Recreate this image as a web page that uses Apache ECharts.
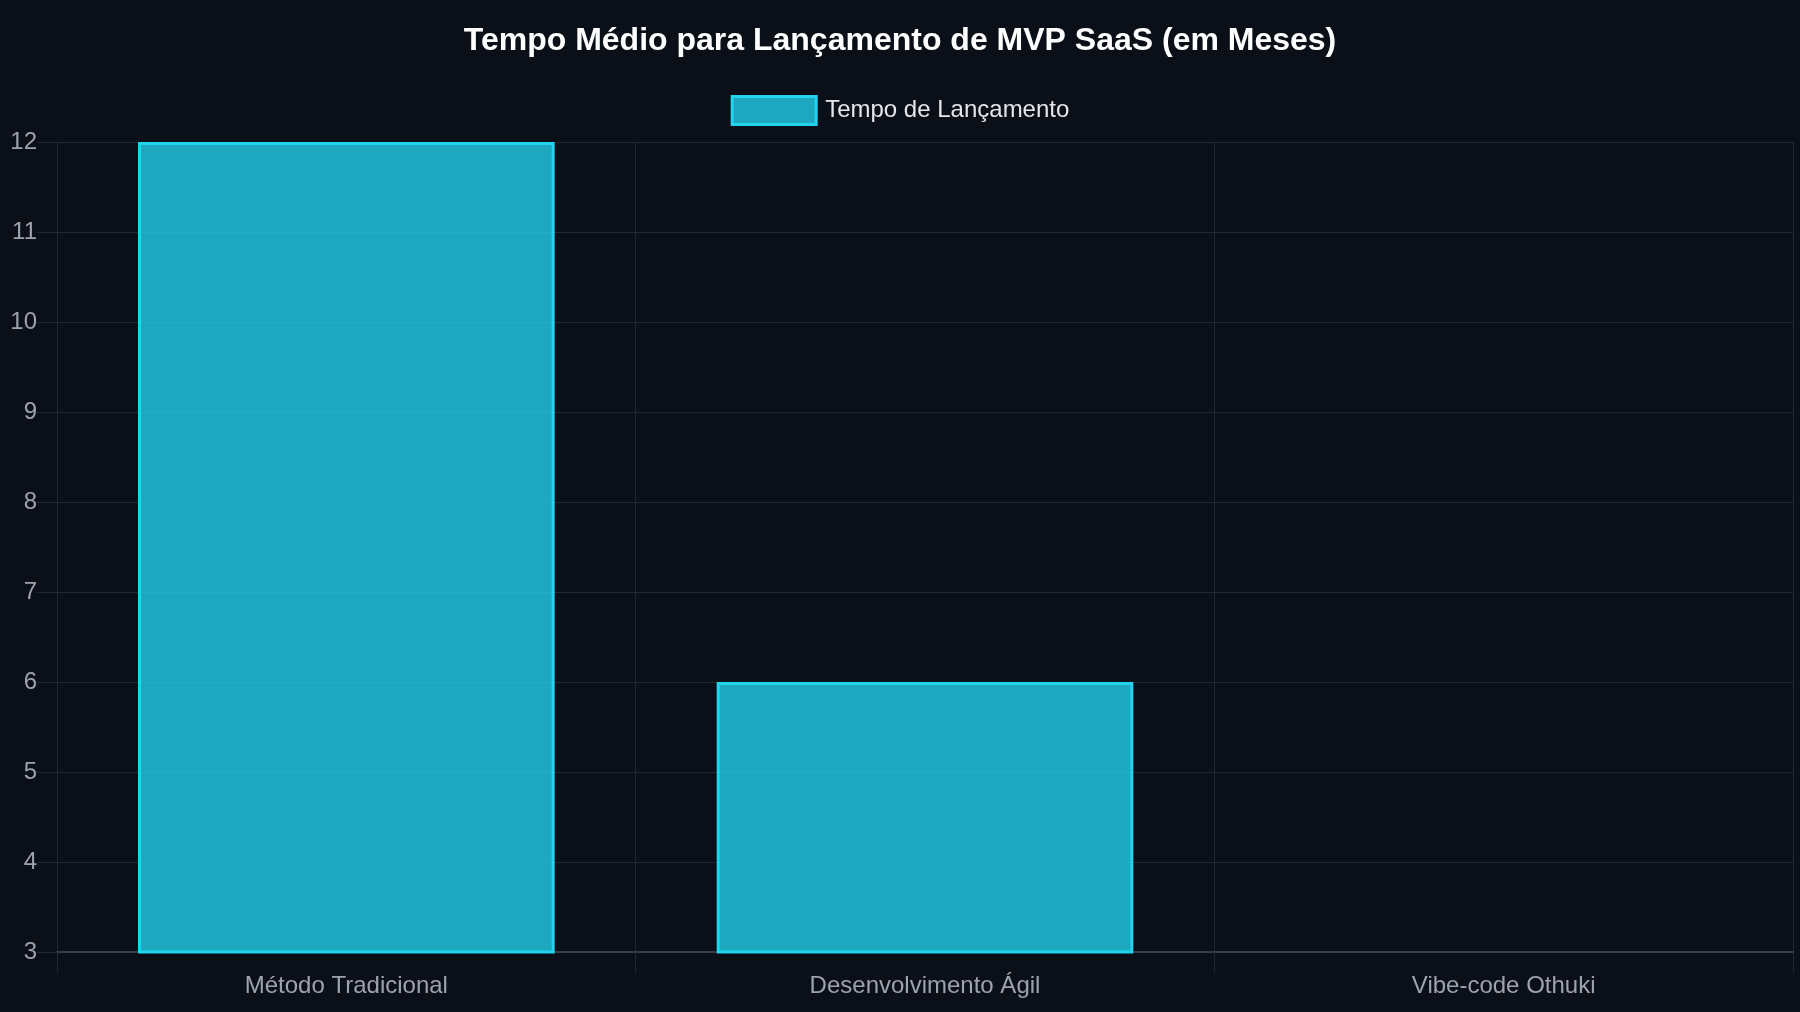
<!DOCTYPE html>
<html>
<head>
<meta charset="utf-8">
<style>
html,body{margin:0;padding:0;background:#0b0f17;}
#chart{width:1800px;height:1012px;}
</style>
<script src="https://cdn.jsdelivr.net/npm/echarts@6/dist/echarts.min.js"></script>
</head>
<body>
<div id="chart"></div>
<script>
const categories = ['Método Tradicional', 'Desenvolvimento Ágil', 'Vibe-code Othuki'];
const launchMonths = [12, 6, 3];
const seriesName = 'Tempo de Lançamento';
const yTicks = { min: 3, max: 12, interval: 1 };

const chart = echarts.init(document.getElementById('chart'), null, { renderer: 'canvas' });
const gridColor = '#23272f';
const font = 'Liberation Sans, Arial, Helvetica, sans-serif';
const barFill = 'rgba(34,211,238,0.78)';

chart.setOption({
  backgroundColor: '#0b0f17',
  animation: false,
  title: {
    text: 'Tempo Médio para Lançamento de MVP SaaS (em Meses)',
    left: 'center',
    top: 20,
    textStyle: { color: '#ffffff', fontSize: 32, fontWeight: 'bold', fontFamily: font }
  },
  legend: {
    top: 90,
    left: 'center',
    itemWidth: 84,
    itemHeight: 28,
    itemGap: 20,
    icon: 'rect',
    textStyle: { color: '#e5e7eb', fontSize: 24, fontFamily: font, padding: [0, 0, 0, 4] },
    data: [{
      name: seriesName,
      itemStyle: { color: barFill, borderColor: '#22d3ee', borderWidth: 3 }
    }]
  },
  grid: { left: 57, right: 7, top: 142, bottom: 60, containLabel: false },
  xAxis: {
    type: 'category',
    data: categories,
    boundaryGap: true,
    axisLine: { show: true, lineStyle: { color: '#3a3e47', width: 2 } },
    axisTick: { show: true, length: 20, alignWithLabel: false, lineStyle: { color: gridColor, width: 1 } },
    splitLine: { show: true, lineStyle: { color: gridColor, width: 1 } },
    axisLabel: { color: '#9ca3af', fontSize: 24, fontFamily: font, margin: 22, lineHeight: 24 }
  },
  yAxis: {
    type: 'value',
    min: yTicks.min,
    max: yTicks.max,
    interval: yTicks.interval,
    axisLine: { show: true, lineStyle: { color: gridColor, width: 1 } },
    axisTick: { show: true, length: 20, lineStyle: { color: gridColor, width: 1 } },
    splitLine: { show: true, lineStyle: { color: gridColor, width: 1 } },
    axisLabel: { color: '#9ca3af', fontSize: 24, fontFamily: font, margin: 20 }
  },
  series: [{
    name: seriesName,
    type: 'bar',
    data: launchMonths,
    barWidth: '72%',
    itemStyle: { color: barFill, borderColor: '#22d3ee', borderWidth: 3 },
    emphasis: { disabled: true }
  }]
});
</script>
</body>
</html>
